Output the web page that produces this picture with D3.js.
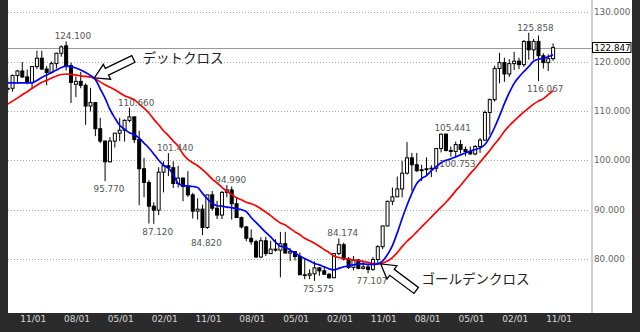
<!DOCTYPE html>
<html><head><meta charset="utf-8">
<script src="https://cdn.jsdelivr.net/npm/d3@7"></script>
<style>html,body{margin:0;padding:0;background:#2b2b2b;overflow:hidden}svg{display:block}</style>
</head><body>
<svg id="c" width="640" height="332"></svg>
<script>
// Monthly candles, Jul 2006 .. Nov 2015
const firstMonth = new Date(2006, 6, 1);
const open = [
  114.4,114.6,117.2,118.1,116.9,115.8,
  119.0,120.7,118.5,117.8,119.6,121.7,123.2,119.2,115.4,116.0,115.2,111.0,
  111.7,106.4,103.9,99.7,103.9,105.5,106.1,108.1,108.8,104.2,98.3,95.5,
  90.7,89.9,97.6,98.9,98.5,95.3,96.4,94.7,93.0,89.7,90.1,86.4,
  93.0,90.3,88.9,93.5,94.0,91.2,88.4,86.5,84.2,83.5,80.4,83.7,
  81.1,82.0,81.8,83.1,81.2,81.5,80.5,76.8,76.7,77.0,78.2,77.6,
  76.9,76.2,81.1,82.9,80.0,78.3,79.8,78.1,78.4,77.9,79.9,82.5,
  86.7,91.7,92.6,94.2,97.4,100.5,99.1,97.9,98.1,98.3,98.4,102.4,
  105.3,102.0,101.8,103.2,102.2,101.8,101.3,102.8,104.1,109.7,112.3,118.6,
  119.8,117.5,119.6,120.1,119.4,124.1,122.4,124.1,121.2,119.8,120.6
];
const high = [
  117.0,117.4,118.3,119.9,118.4,119.1,
  122.2,122.2,119.1,120.0,121.8,123.3,124.1,119.8,117.0,117.9,115.6,114.7,
  111.8,108.6,104.0,104.7,105.5,108.6,108.3,110.66,108.9,106.0,100.5,96.0,
  91.5,98.6,99.8,101.44,99.8,98.9,96.5,97.8,93.4,92.3,91.0,93.0,
  93.8,91.8,93.8,94.99,94.7,92.4,88.6,86.7,86.0,83.9,84.4,84.5,
  83.7,84.0,85.5,85.5,82.2,81.6,81.3,80.2,77.9,79.5,78.3,78.3,
  77.2,81.2,84.174,83.3,80.4,80.6,80.0,79.7,78.9,80.4,82.8,86.8,
  91.8,94.5,96.7,99.9,103.7,101.5,101.5,99.1,100.6,99.0,102.5,105.4,
  105.441,102.8,103.8,104.1,102.8,102.8,103.1,104.5,110.1,112.5,119.2,121.8,
  120.8,120.5,122.0,120.8,124.4,125.858,124.6,125.3,121.7,121.5,123.7
];
const low = [
  113.6,113.9,115.5,116.7,115.4,114.4,
  118.5,118.3,115.2,117.6,118.6,121.0,118.2,111.6,112.8,114.6,107.2,109.9,
  104.9,103.5,95.77,99.6,102.6,103.9,103.8,107.7,103.5,90.9,92.5,87.2,
  87.12,88.9,93.5,96.8,94.4,94.5,91.7,92.6,88.2,88.0,84.82,86.1,
  89.8,88.1,88.1,92.5,88.0,88.4,86.2,83.6,82.9,80.2,80.2,80.6,
  81.0,81.5,76.3,81.3,79.6,79.7,76.8,75.9,75.9,75.575,76.6,76.9,
  76.0,76.1,80.8,79.7,78.0,77.7,77.9,77.9,77.107,77.6,79.0,82.0,
  86.6,90.9,92.6,92.5,97.1,93.8,97.6,95.8,96.9,96.6,97.6,101.6,
  101.8,100.753,100.8,101.4,100.8,101.1,101.0,101.5,104.0,105.2,111.9,115.6,
  115.9,116.9,118.3,118.5,118.9,120.4,120.4,116.067,118.6,118.1,120.2
];
const close = [
  114.6,117.2,118.1,116.9,115.8,119.0,
  120.7,118.5,117.8,119.6,121.7,123.0,119.2,115.8,116.0,115.2,111.0,111.7,
  106.4,103.9,99.7,103.9,105.5,106.1,108.1,108.8,104.2,98.3,95.5,90.7,
  89.9,97.6,98.9,98.5,95.3,96.4,94.7,93.0,89.7,90.1,86.4,93.0,
  90.3,88.9,93.5,94.0,91.2,88.4,86.5,84.2,83.5,80.4,83.7,81.1,
  82.0,81.8,83.1,81.2,81.5,80.5,76.8,76.7,77.0,78.2,77.6,76.9,
  76.2,81.1,82.9,80.0,78.3,79.8,78.1,78.4,77.9,79.9,82.5,86.7,
  91.7,92.6,94.2,97.4,100.5,99.1,97.9,98.1,98.3,98.4,102.4,105.3,
  102.0,101.8,103.2,102.2,101.8,101.3,102.8,104.1,109.7,112.3,118.6,119.8,
  117.5,119.6,120.1,119.4,124.1,122.4,124.1,121.2,119.8,120.6,122.847
];
// Moving averages (one value per candle)
const maShort = [
  115.7,115.7,115.7,115.7,115.7,115.7,116.2,116.8,117.3,117.8,118.3,118.8,
  119.1,119.0,118.7,118.3,117.8,117.2,116.4,114.5,112.6,110.3,108.6,107.1,
  106.3,105.6,105.2,104.5,103.5,102.5,101.3,100.0,99.0,98.4,97.1,95.3,
  94.9,94.8,94.7,94.5,93.3,92.2,91.3,90.8,90.7,90.5,90.4,90.2,
  90.0,89.6,88.4,87.4,86.4,85.4,84.5,83.4,82.6,82.4,81.8,81.2,
  80.6,80.1,79.6,79.1,78.8,78.4,78.0,77.8,78.1,78.4,78.6,78.8,
  79.0,79.0,78.9,78.9,79.0,79.6,80.9,82.7,85.3,88.2,90.9,93.3,
  95.3,96.3,96.9,97.9,98.7,99.5,100.0,100.3,100.7,101.1,101.5,101.9,
  102.2,102.5,103.2,104.7,106.7,109.0,111.5,113.7,115.6,116.9,118.0,119.0,
  120.1,120.5,120.7,121.0,121.4
];
const maLong = [
  111.4,112.0,112.6,113.3,113.9,114.6,115.2,115.8,116.2,116.7,117.1,117.4,
  117.5,117.4,117.3,117.1,117.0,116.9,116.5,115.9,115.3,114.8,114.3,113.7,
  113.1,112.7,112.3,111.4,110.6,109.6,108.3,107.2,106.0,105.0,103.9,102.9,
  101.3,100.2,99.5,98.9,98.1,97.2,96.2,95.4,94.5,93.7,93.1,92.4,
  92.0,91.5,91.2,90.8,90.2,89.5,88.8,88.0,87.3,86.9,86.2,85.5,
  84.9,84.2,83.7,83.2,82.6,81.9,81.3,80.6,80.3,80.1,80.0,79.8,
  79.7,79.5,79.3,79.1,79.0,79.2,79.6,80.3,81.3,82.5,83.6,84.5,
  85.5,86.5,87.5,88.5,89.5,90.5,91.5,92.6,93.8,94.9,96.1,97.3,
  98.4,99.6,100.8,102.0,103.3,104.5,105.9,107.0,108.0,108.9,109.8,110.6,
  111.4,112.0,112.5,113.3,114.1
];
const yTicks = [80, 90, 100, 110, 120, 130];
const lastPrice = 122.847;
// High / low annotations: candle index, value, side
const markIndex = [12, 25, 20, 33, 30, 45, 40, 63, 68, 74, 90, 91, 107, 109];
const markValue = [124.100, 110.660, 95.770, 101.440, 87.120, 94.990, 84.820, 75.575, 84.174, 77.107, 105.441, 100.753, 125.858, 116.067];
const markSide  = ["h","h","l","h","l","h","l","l","h","l","h","l","h","l"];
// Cross annotations: candle index, price, text
const crossIndex = [17.8, 76.6];
const crossPrice = [116.7, 79.0];
const crossText = ["デットクロス", "ゴールデンクロス"];

const n = close.length;
const months = d3.range(n).map(i => d3.timeMonth.offset(firstMonth, i));
const svg = d3.select("#c");
const W = 640, H = 332;
const plotL = 8, plotR = 592, plotB = 313, frameR = 632;

const x = d3.scaleLinear().domain([0, n - 1]).range([7.7, 553.1]);
const y = d3.scaleLinear().domain([130, 80]).range([12.3, 259]);

svg.append("rect").attr("width", W).attr("height", H).attr("fill", "#2b2b2b");
svg.append("rect").attr("x", plotL).attr("y", 0).attr("width", frameR - plotL).attr("height", plotB).attr("fill", "#fff");

svg.append("defs").append("clipPath").attr("id", "clip")
  .append("rect").attr("x", plotL).attr("y", 0).attr("width", plotR - plotL).attr("height", plotB);

// grid
svg.append("g").selectAll("line").data(yTicks).join("line")
  .attr("x1", plotL).attr("x2", plotR - 2)
  .attr("y1", d => Math.round(y(d)) + 0.5).attr("y2", d => Math.round(y(d)) + 0.5)
  .attr("stroke", "#a8a8a8").attr("stroke-width", 1).attr("stroke-dasharray", "1,2");

// y labels
svg.append("g").selectAll("text").data(yTicks).join("text")
  .attr("x", 594).attr("y", d => y(d)).attr("dy", "0.35em")
  .attr("font-family", "DejaVu Sans").attr("font-size", 8.8).attr("fill", "#666")
  .text(d => d3.format(".3f")(d));

// right separator
svg.append("line").attr("x1", plotR).attr("x2", plotR).attr("y1", 0).attr("y2", plotB)
  .attr("stroke", "#cfcfcf").attr("stroke-width", 2);

const plot = svg.append("g").attr("clip-path", "url(#clip)");

// last price line
plot.append("line").attr("x1", plotL).attr("x2", plotR)
  .attr("y1", Math.round(y(lastPrice)) + 0.5).attr("y2", Math.round(y(lastPrice)) + 0.5)
  .attr("stroke", "#9a9a9a").attr("stroke-width", 1);

// candles
const idx = d3.range(n);
plot.append("g").selectAll("line").data(idx).join("line")
  .attr("x1", i => x(i)).attr("x2", i => x(i))
  .attr("y1", i => y(high[i])).attr("y2", i => y(low[i]))
  .attr("stroke", "#000").attr("stroke-width", 1);
plot.append("g").selectAll("rect").data(idx).join("rect")
  .attr("x", i => x(i) - 1.5)
  .attr("y", i => y(Math.max(open[i], close[i])))
  .attr("width", 3)
  .attr("height", i => Math.max(0.6, Math.abs(y(open[i]) - y(close[i]))))
  .attr("fill", i => close[i] >= open[i] ? "#fff" : "#000")
  .attr("stroke", "#000").attr("stroke-width", 1);

// moving averages
const line = arr => d3.line().x((d, i) => x(i)).y(d => y(d)).curve(d3.curveMonotoneX)(arr);
plot.append("path").attr("d", line(maLong)).attr("fill", "none").attr("stroke", "#ff0000").attr("stroke-width", 1.7);
plot.append("path").attr("d", line(maShort)).attr("fill", "none").attr("stroke", "#0000ff").attr("stroke-width", 1.7);

// high/low labels
svg.append("g").selectAll("text").data(markIndex).join("text")
  .attr("x", (d, k) => x(d) - 11.5)
  .attr("y", (d, k) => markSide[k] === "h" ? y(markValue[k]) - 2 : y(markValue[k]) + 10.8)
  .attr("font-family", "DejaVu Sans").attr("font-size", 8.8).attr("fill", "#555")
  .text((d, k) => d3.format(".3f")(markValue[k]));

// cross arrows + texts
function arrow(tx, ty, dx, dy) {
  const L = Math.hypot(dx, dy), ux = dx / L, uy = dy / L, vx = -uy, vy = ux;
  const hl = 14, hw = 16.5, sw = 7.5;
  const pts = [[0,0],[hl,hw/2],[hl,sw/2],[L,sw/2],[L,-sw/2],[hl,-sw/2],[hl,-hw/2]];
  return pts.map(([a, b]) => [tx + a * ux + b * vx, ty + a * uy + b * vy]);
}
const arrowDir = [[39, -19], [35.5, 26.5]];
crossIndex.forEach((ci, k) => {
  const tx = x(ci), ty = y(crossPrice[k]);
  svg.append("polygon")
    .attr("points", arrow(tx, ty, arrowDir[k][0], arrowDir[k][1]).map(p => p.join(",")).join(" "))
    .attr("fill", "#fff").attr("stroke", "#000").attr("stroke-width", 1.3).attr("stroke-linejoin", "miter");
});
const textPos = [[142.5, 62.5], [421.5, 283.5]];
svg.append("g").selectAll("text").data(crossText).join("text")
  .attr("x", (d, k) => textPos[k][0]).attr("y", (d, k) => textPos[k][1])
  .attr("font-family", "Noto Sans CJK JP").attr("font-size", 13.5).attr("fill", "#222")
  .text(d => d);

// last price box
const ly = y(lastPrice);
svg.append("rect").attr("x", 592.5).attr("y", Math.round(ly) - 5.5).attr("width", 38.5).attr("height", 10)
  .attr("fill", "#fff").attr("stroke", "#000").attr("stroke-width", 1);
svg.append("text").attr("x", 594.3).attr("y", ly).attr("dy", "0.35em")
  .attr("font-family", "DejaVu Sans").attr("font-size", 8.8).attr("fill", "#000")
  .text(d3.format(".3f")(lastPrice));

// x labels
const xTickIdx = idx.filter(i => i >= 4 && (i - 4) % 9 === 0);
svg.append("g").selectAll("text").data(xTickIdx).join("text")
  .attr("x", i => x(i) + 6).attr("y", 322).attr("text-anchor", "middle")
  .attr("font-family", "DejaVu Sans").attr("font-size", 9).attr("fill", "#d8d8d8")
  .text(i => d3.timeFormat("%m/%d")(months[i]));
</script>
</body></html>
